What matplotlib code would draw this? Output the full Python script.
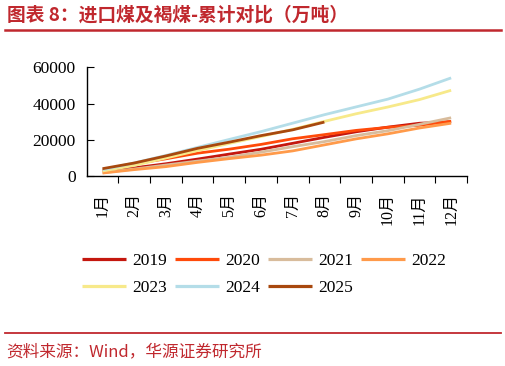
import numpy as np
import matplotlib
matplotlib.use("Agg")
import matplotlib.pyplot as plt

plt.rcParams["font.family"] = ["Liberation Serif", "Noto Sans CJK SC"]

months = ["1月", "2月", "3月", "4月", "5月", "6月", "7月", "8月", "9月", "10月", "11月", "12月"]
years = ["2019", "2020", "2021", "2022", "2023", "2024", "2025"]

y2019 = [3352, 4755, 7009, 9585, 12335, 14979, 18267, 21554, 24598, 27165, 29308, 30100]
y2020 = [3478, 6956, 9737, 12834, 15039, 17652, 20757, 23037, 25366, 27036, 28204, 30399]
y2021 = [2050, 4100, 6300, 8500, 10600, 13400, 16400, 19200, 22500, 25200, 28700, 32322]
y2022 = [1890, 3781, 5423, 7775, 9834, 11740, 14092, 17395, 20702, 23470, 26693, 29320]
y2023 = [3032, 6064, 10181, 14249, 18205, 22010, 25946, 30328, 34510, 38236, 42319, 47442]
y2024 = [3725, 7450, 11570, 16020, 20400, 24690, 29350, 34000, 38300, 42570, 48070, 54270]
y2025 = [4300, 7412, 11300, 15500, 18900, 22500, 25668, 29942]

series = [y2019, y2020, y2021, y2022, y2023, y2024, y2025]
colors = ["#C4170E", "#FF4A0A", "#D8BC9C", "#FF9A4A", "#F7E98A", "#B4DDE8", "#A8480E"]

red = "#C0282E"

fig = plt.figure(figsize=(5.06, 3.66), dpi=100)
ax = fig.add_axes([0.1713, 0.5178, 0.7516, 0.2978])

for name, vals, c in zip(years, series, colors):
    ax.plot(np.arange(len(vals)), vals, color=c, lw=2.0, label=name, solid_capstyle="butt")

ax.set_xlim(-0.5, 11.5)
ax.set_ylim(0, 60000)
ax.set_yticks([0, 20000, 40000, 60000])
ax.tick_params(axis="y", direction="in", length=5, labelsize=12.5, pad=8)
ax.set_xticks(np.arange(12) + 0.5)
ax.set_xticklabels([])
ax.tick_params(axis="x", which="major", direction="out", length=5)
ax.set_xticks(np.arange(12), minor=True)
ax.set_xticklabels(months, minor=True, rotation=90, fontsize=11.5)
ax.tick_params(axis="x", which="minor", length=0, pad=12)
for s in ["top", "right"]:
    ax.spines[s].set_visible(False)
for s in ["left", "bottom"]:
    ax.spines[s].set_linewidth(1.0)

# row-wise legend order
handles, labels = ax.get_legend_handles_labels()
order = [0, 4, 1, 5, 2, 6, 3]
leg = ax.legend([handles[i] for i in order], [labels[i] for i in order],
                loc="upper left", bbox_to_anchor=(-0.03, -0.64), ncol=4, frameon=False,
                fontsize=12.5, handlelength=2.5, handletextpad=0.4, columnspacing=0.45,
                labelspacing=0.6, borderaxespad=0)
for l in leg.get_lines():
    l.set_linewidth(2.3)

fig.text(0.014, 0.959, "图表 8：进口煤及褐煤-累计对比（万吨）", color=red, fontsize=13.5,
         fontweight="bold", family=["Noto Sans CJK SC"], va="center", ha="left")
fig.add_artist(plt.Line2D([0.01, 0.99], [0.918, 0.918], color=red, lw=1.8))
fig.add_artist(plt.Line2D([0.01, 0.99], [0.09, 0.09], color=red, lw=1.3))
fig.text(0.012, 0.038, "资料来源：Wind，华源证券研究所", color=red, fontsize=12,
         family=["Noto Sans CJK SC"], va="center", ha="left")

fig.savefig("out.png", dpi=100)
